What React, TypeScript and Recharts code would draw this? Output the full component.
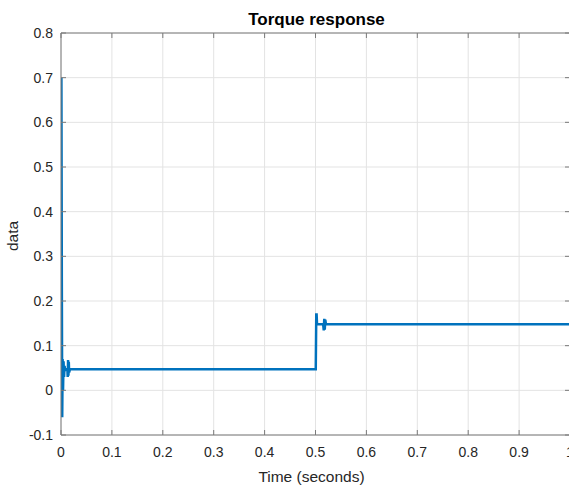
import { LineChart, Line, XAxis, YAxis, CartesianGrid } from 'recharts';

// Sample times (s) and torque values
const time = [
  0, 0.0008, 0.0016, 0.0024, 0.0032, 0.004, 0.005, 0.006, 0.007, 0.008, 0.01,
  0.0125, 0.0132, 0.0139, 0.0146, 0.0153, 0.016, 0.0175, 0.1, 0.3, 0.5005,
  0.5015, 0.5022, 0.503, 0.507, 0.515, 0.5162, 0.5172, 0.5182, 0.5192, 0.5205,
  0.7, 1.0,
];
const torque = [
  0, 0.7, 0.25, -0.06, 0.07, 0.0, 0.065, 0.03, 0.055, 0.045, 0.047,
  0.047, 0.03, 0.068, 0.033, 0.064, 0.04, 0.047, 0.047, 0.047, 0.047,
  0.17, 0.17, 0.148, 0.148, 0.148, 0.134, 0.16, 0.136, 0.158, 0.148,
  0.148, 0.148,
];

const xTicks = [0, 0.1, 0.2, 0.3, 0.4, 0.5, 0.6, 0.7, 0.8, 0.9, 1];
const yTicks = [-0.1, 0, 0.1, 0.2, 0.3, 0.4, 0.5, 0.6, 0.7, 0.8];

const chartData = time.map((t, i) => ({ t, v: torque[i] }));

const font = '"Liberation Sans", Arial, Helvetica, sans-serif';
const axisColor = '#7a7a7a';
const textColor = '#262626';
const TICK_LEN = 5;

const fmt = (n: number) => (n === 0 ? '0' : Number(n.toFixed(1)).toString());

// MATLAB-style ticks point into the plot, so draw them next to the label.
// `gap` must equal the axis tickMargin (distance from axis line to x/y given here)
function BottomTick(props: any) {
  const { x, y, payload, gap } = props;
  const axisY = y - gap;
  return (
    <g>
      <line x1={x} x2={x} y1={axisY} y2={axisY - TICK_LEN} stroke={axisColor} />
      <text x={x} y={y + 9.5} textAnchor="middle" fill={textColor} fontSize={14} fontFamily={font}>
        {fmt(payload.value)}
      </text>
    </g>
  );
}

function LeftTick(props: any) {
  const { x, y, payload, gap } = props;
  const axisX = x + gap;
  return (
    <g>
      <line x1={axisX} x2={axisX + TICK_LEN} y1={y} y2={y} stroke={axisColor} />
      <text x={x} y={y + 5} textAnchor="end" fill={textColor} fontSize={14} fontFamily={font}>
        {fmt(payload.value)}
      </text>
    </g>
  );
}

function TopTick(props: any) {
  const { x, y, gap } = props;
  const axisY = y + gap;
  return <line x1={x} x2={x} y1={axisY} y2={axisY + TICK_LEN} stroke={axisColor} />;
}

function RightTick(props: any) {
  const { x, y, gap } = props;
  const axisX = x - gap;
  return <line x1={axisX} x2={axisX - TICK_LEN} y1={y} y2={y} stroke={axisColor} />;
}

export default function App() {
  return (
    <div
      style={{
        position: 'absolute',
        left: 0,
        top: 0,
        width: 569,
        height: 485,
        overflow: 'hidden',
        background: '#fff',
        fontFamily: font,
      }}
    >
      <LineChart
        width={575}
        height={485}
        data={chartData}
        margin={{ top: 32, right: 4, bottom: 0, left: 0 }}
      >
        <CartesianGrid stroke="#e3e3e3" strokeWidth={1} />
        <XAxis
          dataKey="t"
          type="number"
          domain={[0, 1]}
          ticks={xTicks}
          height={50}
          tickSize={0}
          tickMargin={12}
          tickLine={false}
          allowDataOverflow
          axisLine={{ stroke: axisColor }}
          tick={<BottomTick gap={12} />}
          label={{
            value: 'Time (seconds)',
            position: 'insideBottom',
            offset: 3,
            dx: -4,
            fill: textColor,
            fontSize: 15.5,
            fontFamily: font,
          }}
        />
        <XAxis
          xAxisId="top"
          orientation="top"
          dataKey="t"
          type="number"
          domain={[0, 1]}
          ticks={xTicks}
          height={1}
          tickSize={0}
          tickMargin={4}
          tickLine={false}
          allowDataOverflow
          axisLine={{ stroke: axisColor }}
          tick={<TopTick gap={4} />}
          label={{
            value: 'Torque response',
            position: 'top',
            offset: 7,
            dx: 1,
            fill: '#000',
            fontSize: 17,
            fontWeight: 'bold',
            fontFamily: font,
          }}
        />
        <YAxis
          type="number"
          domain={[-0.1, 0.8]}
          ticks={yTicks}
          width={61}
          tickSize={0}
          tickMargin={8}
          tickLine={false}
          allowDataOverflow
          axisLine={{ stroke: axisColor }}
          tick={<LeftTick gap={8} />}
          label={{
            value: 'data',
            angle: -90,
            position: 'center',
            dx: -17.7,
            dy: 2,
            fill: textColor,
            fontSize: 15.5,
            fontFamily: font,
          }}
        />
        <YAxis
          yAxisId="right"
          orientation="right"
          type="number"
          domain={[-0.1, 0.8]}
          ticks={yTicks}
          width={1}
          tickSize={0}
          tickMargin={4}
          tickLine={false}
          allowDataOverflow
          axisLine={{ stroke: axisColor }}
          tick={<RightTick gap={4} />}
        />
        <Line
          type="linear"
          dataKey="v"
          stroke="#0072BD"
          strokeWidth={2.5}
          dot={false}
          activeDot={false}
          isAnimationActive={false}
        />
      </LineChart>
    </div>
  );
}
